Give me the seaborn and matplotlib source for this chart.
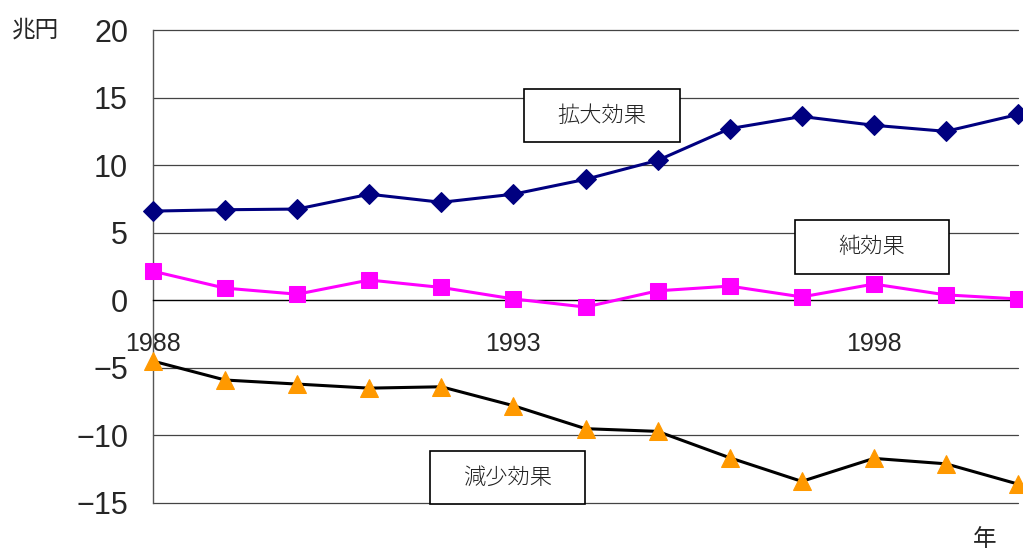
import pandas as pd
import seaborn as sns
import matplotlib.pyplot as plt
from matplotlib.patches import Rectangle

years = list(range(1988, 2001))
expansion = [6.6, 6.7, 6.75, 7.85, 7.25, 7.85, 8.95, 10.35, 12.7, 13.6, 12.95, 12.5, 13.75]
net = [2.15, 0.9, 0.45, 1.5, 0.95, 0.1, -0.5, 0.7, 1.05, 0.25, 1.2, 0.4, 0.1]
reduction = [-4.5, -5.9, -6.2, -6.5, -6.4, -7.8, -9.5, -9.7, -11.65, -13.4, -11.7, -12.1, -13.6]
xticks = [1988, 1993, 1998]
yticks = [-15, -10, -5, 0, 5, 10, 15, 20]

sns.set_style('white')
plt.rcParams['font.family'] = ['Liberation Sans', 'DejaVu Sans']
jp = ['Noto Sans CJK JP', 'DejaVu Sans']

df = pd.DataFrame({'year': years, 'exp': expansion, 'net': net, 'red': reduction})

fig = plt.figure(figsize=(10.23, 5.5), dpi=100)
ax = fig.add_axes([153 / 1023, 1 - 503 / 550, (1018 - 153) / 1023, (503 - 30) / 550])

# horizontal grid lines
for y in yticks:
    if y != 0:
        ax.axhline(y, color='#444444', lw=0.9, zorder=1, clip_on=False)

sns.lineplot(data=df, x='year', y='exp', ax=ax, color='#000080', lw=2.2,
             marker='D', markersize=10, markeredgecolor='#000080', zorder=3, clip_on=False)
sns.lineplot(data=df, x='year', y='net', ax=ax, color='#FF00FF', lw=2.2,
             marker='s', markersize=11, markeredgecolor='#FF00FF', zorder=3, clip_on=False)
sns.lineplot(data=df, x='year', y='red', ax=ax, color='black', lw=2.2,
             marker='^', markersize=13, markerfacecolor='#FF9900', markeredgecolor='#FF9900',
             zorder=3, clip_on=False)

ax.set_xlim(1988, 2000)
ax.set_ylim(-15, 20)
ax.set_xticks(xticks)
ax.set_yticks(yticks)
ax.set_xlabel('')
ax.set_ylabel('')

for s in ['top', 'right']:
    ax.spines[s].set_visible(False)
ax.spines['left'].set_color('#555555')
ax.spines['left'].set_linewidth(1.0)
ax.spines['bottom'].set_position(('data', 0))
ax.spines['bottom'].set_color('black')
ax.spines['bottom'].set_linewidth(1.0)

ax.tick_params(axis='x', direction='inout', length=14, width=1, color='#555555',
               labelsize=18, pad=16)
ax.tick_params(axis='y', direction='in', length=4, width=1, color='#555555',
               labelsize=22, pad=18)

fig.text(12 / 1023, 1 - 30 / 550, '兆円', family=jp, fontsize=17, va='center', ha='left')
fig.text(985 / 1023, 1 - 540 / 550, '年', family=jp, fontsize=17, va='center', ha='center')

boxes = [('拡大効果', 524, 680, 89, 142),
         ('純効果', 795, 949, 220, 274),
         ('減少効果', 430, 585, 451, 504)]
for label, x0, x1, y0, y1 in boxes:
    fig.patches.append(Rectangle((x0 / 1023, 1 - y1 / 550), (x1 - x0) / 1023, (y1 - y0) / 550,
                                 transform=fig.transFigure, facecolor='white',
                                 edgecolor='black', lw=1.2, zorder=5))
    fig.text((x0 + x1) / 2 / 1023, 1 - (y0 + y1) / 2 / 550, label, family=jp,
             fontsize=16, fontweight='light', ha='center', va='center', zorder=6, color='#222222')

plt.savefig('out.png', dpi=100)
